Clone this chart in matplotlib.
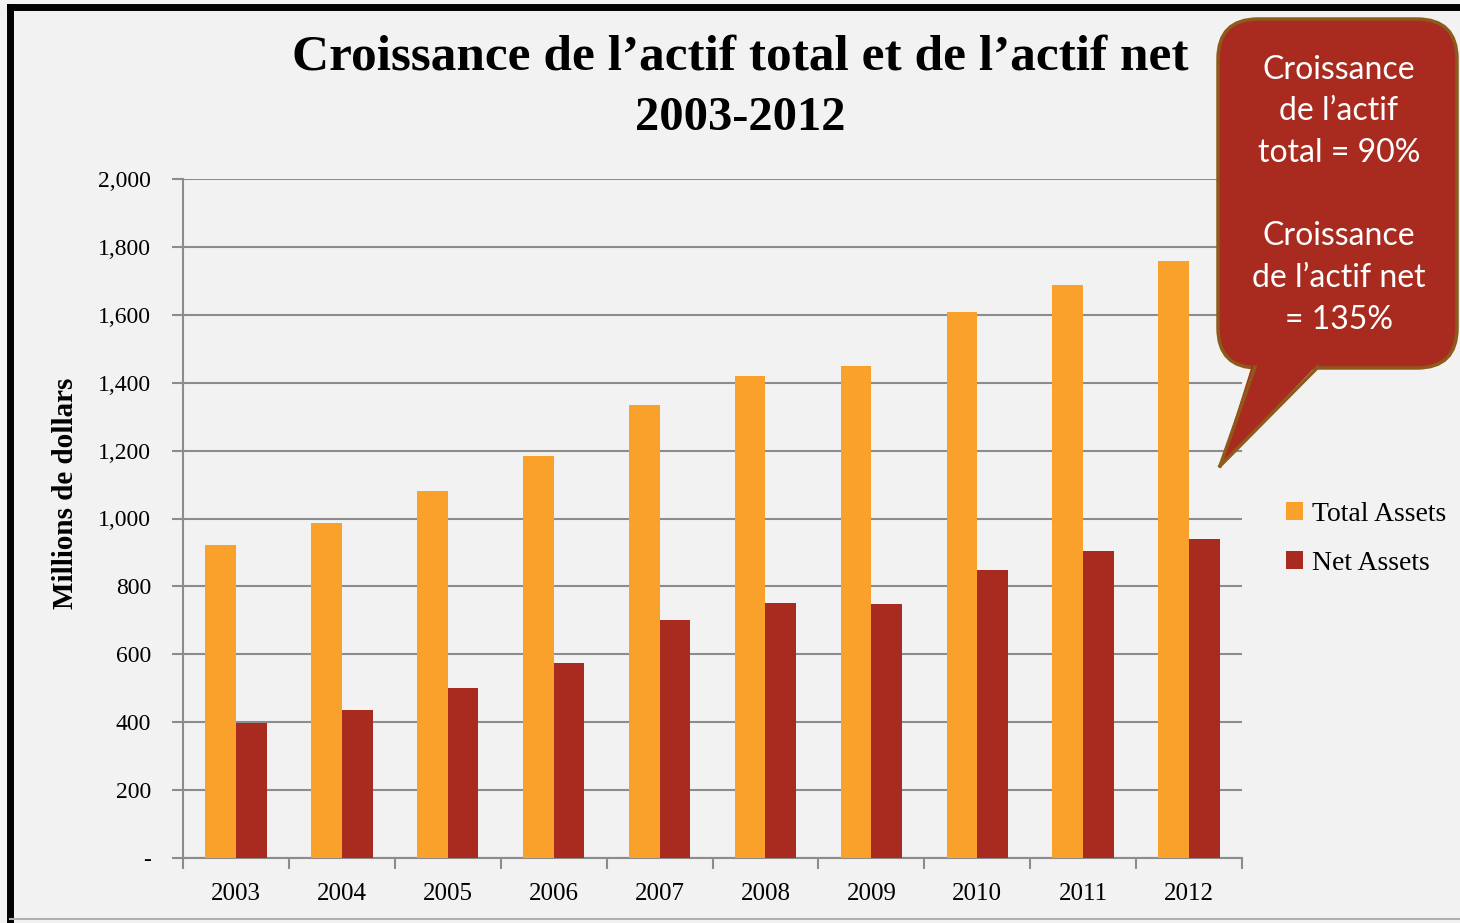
import numpy as np
import matplotlib
matplotlib.use('Agg')
import matplotlib.pyplot as plt
from matplotlib.patches import FancyBboxPatch, Polygon
from matplotlib.lines import Line2D

# Données (millions de dollars)
annees = ['2003', '2004', '2005', '2006', '2007', '2008', '2009', '2010', '2011', '2012']
actif_total = [922, 987, 1081, 1184, 1334, 1420, 1449, 1608, 1688, 1758]
actif_net = [398, 436, 501, 574, 701, 751, 748, 848, 904, 940]
graduations = [0, 200, 400, 600, 800, 1000, 1200, 1400, 1600, 1800, 2000]
etiquettes_y = ['-', '200', '400', '600', '800', '1,000', '1,200', '1,400', '1,600', '1,800', '2,000']

orange = '#F9A12B'
rouge = '#A92A1F'
fond = '#F2F2F2'
serif = ['Liberation Serif', 'DejaVu Serif']
sans = ['Lato', 'Open Sans', 'DejaVu Sans']

fig = plt.figure(figsize=(14.6, 9.23), dpi=100, facecolor=fond)
ax = fig.add_axes([183 / 1460, 1 - 858 / 923, 1059 / 1460, 679 / 923])
ax.set_facecolor(fond)

x = np.arange(len(annees))
largeur = 0.29
ax.bar(x - largeur / 2, actif_total, largeur, color=orange, label='Total Assets', zorder=3)
ax.bar(x + largeur / 2, actif_net, largeur, color=rouge, label='Net Assets', zorder=3)

ax.set_xlim(-0.5, len(annees) - 0.5)
ax.set_ylim(0, 2000)
ax.set_yticks(graduations)
ax.set_yticklabels(etiquettes_y, family=serif, fontsize=17)
ax.yaxis.grid(True, color='#8C8C8C', linewidth=1.5, zorder=0)

ax.set_xticks(x)
ax.set_xticklabels(annees, family=serif, fontsize=18)
ax.set_xticks(np.arange(-0.5, len(annees)), minor=True)
ax.tick_params(axis='x', which='major', length=0, pad=18)
ax.tick_params(axis='x', which='minor', length=8, color='#8C8C8C', width=1.5)
ax.tick_params(axis='y', length=8, color='#8C8C8C', width=1.5, pad=15)

for cote in ['top', 'right']:
    ax.spines[cote].set_visible(False)
for cote in ['left', 'bottom']:
    ax.spines[cote].set_color('#8C8C8C')
    ax.spines[cote].set_linewidth(1.5)

ax.set_ylabel('Millions de dollars', family=serif, fontsize=21, fontweight='bold')
ax.yaxis.set_label_coords(-104 / 1059, (858 - 493) / 679)

fig.text(740 / 1460, 1 - 57 / 923, 'Croissance de l\u2019actif total et de l\u2019actif net',
         ha='center', va='center', family=serif, fontsize=37, fontweight='bold')
fig.text(740 / 1460, 1 - 118 / 923, '2003-2012',
         ha='center', va='center', family=serif, fontsize=35, fontweight='bold')

leg = fig.legend(loc='upper left', bbox_to_anchor=(1261 / 1460, 1 - 477 / 923),
                 frameon=False, prop={'family': serif, 'size': 20},
                 handlelength=0.6, handleheight=0.6, handletextpad=0.35, labelspacing=0.85)

# Bulle de commentaire (coordonnées en pouces, 100 px = 1 pouce)
tr = fig.dpi_scale_trans
def p(px, py):
    return (px / 100, (923 - py) / 100)

bord = '#8E5A1C'
x0, y0 = p(1218, 368)
x1, y1 = p(1457, 19)
bulle = FancyBboxPatch((x0 + 0.4, y0 + 0.4), (x1 - x0) - 0.8, (y1 - y0) - 0.8,
                       boxstyle='round,pad=0.4', transform=tr, facecolor=rouge,
                       edgecolor=bord, linewidth=2.5, zorder=10)
fig.patches.append(bulle)
queue = Polygon([p(1253, 362), p(1220, 466), p(1320, 362)], closed=True, transform=tr,
                facecolor=rouge, edgecolor='none', zorder=11)
fig.patches.append(queue)
for a, b in [((1255, 367), (1220, 466)), ((1220, 466), (1318, 367))]:
    (xa, ya), (xb, yb) = p(*a), p(*b)
    fig.lines.append(Line2D([xa, xb], [ya, yb], transform=tr, color=bord, linewidth=2.5, zorder=12))

lignes = ['Croissance', 'de l\u2019actif', 'total = 90%', 'Croissance', 'de l\u2019actif net', '= 135%']
ys = [70, 111, 153, 236, 278, 320]
for t, yy in zip(lignes, ys):
    fig.text(1339 / 1460, 1 - yy / 923, t, ha='center', va='center', color='white',
             family=sans, fontsize=23, zorder=13)

# Cadre noir
fig.lines.append(Line2D([10 / 1460, 10 / 1460], [0, 1 - 7 / 923], transform=fig.transFigure,
                        color='black', linewidth=5))
fig.lines.append(Line2D([10 / 1460, 1], [1 - 7 / 923, 1 - 7 / 923], transform=fig.transFigure,
                        color='black', linewidth=5))
fig.lines.append(Line2D([10 / 1460, 1], [1 - 919 / 923, 1 - 919 / 923], transform=fig.transFigure,
                        color='#B0B0B0', linewidth=1.5))

fig.savefig('out.png', dpi=100, facecolor=fond)
